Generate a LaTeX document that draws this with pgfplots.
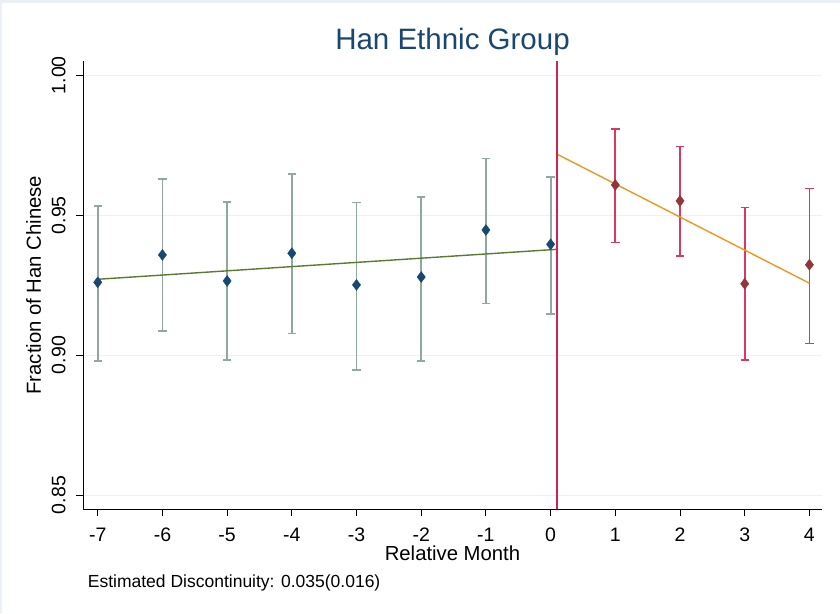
\documentclass[border=0pt]{standalone}
\usepackage{pgfplots}
\pgfplotsset{compat=1.18}
\usepackage{pgfplotstable}
\usepackage{fontspec}
\setmainfont{Liberation Sans}
\definecolor{navyc}{HTML}{1A476F}
\definecolor{ebgreen}{HTML}{90A99C}
\definecolor{fitgreen}{HTML}{5A7A32}
\definecolor{maroonc}{HTML}{90353B}
\definecolor{crimsonc}{HTML}{D63A62}
\definecolor{vlinec}{HTML}{CF2350}
\definecolor{orangec}{HTML}{F0961E}
\definecolor{gridc}{HTML}{EAF2F3}
\definecolor{framec}{HTML}{EAF0F3}

\pgfplotstableread{
x y ep em
-7 0.9260 0.0272 0.0282
-6 0.9358 0.0272 0.0272
-5 0.9265 0.0283 0.0283
-4 0.9364 0.0283 0.0287
-3 0.9251 0.0294 0.0304
-2 0.9279 0.0286 0.0300
-1 0.9447 0.0256 0.0262
0 0.9396 0.0241 0.0250
}\pre
\pgfplotstableread{
x y ep em
1 0.9608 0.0200 0.0205
2 0.9551 0.0194 0.0196
3 0.9255 0.0272 0.0273
4 0.9323 0.0272 0.0282
}\post

\begin{document}
\begin{tikzpicture}[x=1pt,y=1pt]
\path[use as bounding box] (0,0) rectangle (840,613);
\fill[framec] (0,610) rectangle (840,613);
\fill[framec] (0,0) rectangle (2,613);
\begin{axis}[
  at={(83.3pt,103.7pt)}, anchor=south west,
  scale only axis, width=738.4pt, height=448.3pt,
  xmin=-7.223, xmax=4.19, ymin=0.8449, ymax=1.0051,
  axis lines*=left,
  axis line style={black, line width=1pt, -},
  xtick={-7,-6,-5,-4,-3,-2,-1,0,1,2,3,4},
  ytick={0.85,0.90,0.95,1.00},
  tick align=outside, major tick length=7pt,
  tick style={black, line width=1pt},
  ymajorgrids, grid style={gridc, line width=1pt},
  /pgf/number format/assume math mode=true,
  yticklabel style={rotate=90, anchor=base, font=\fontsize{19.5}{20}\selectfont,
    /pgf/number format/.cd, fixed, fixed zerofill, precision=2},
  yticklabel shift=11pt,
  xticklabel style={anchor=base, font=\fontsize{19.5}{20}\selectfont},
  xticklabel shift=25pt,
  title={Han Ethnic Group},
  every axis title shift=0pt,
  title style={at={(axis description cs:0.5,1.02454)}, anchor=base, yshift=0pt,
    font=\fontsize{29.5}{30}\selectfont, text=navyc},
  xlabel={Relative Month},
  xlabel style={at={(axis description cs:0.5,-0.1131)}, anchor=base,
    font=\fontsize{20.3}{21}\selectfont},
  ylabel={Fraction of Han Chinese},
  ylabel style={at={(axis description cs:-0.0575,0.5)}, anchor=base,
    font=\fontsize{20.3}{21}\selectfont},
  clip=false,
]
% error bars
\addplot[draw=none, mark=none, forget plot,
  error bars/.cd, y dir=both, y explicit,
  error bar style={ebgreen, line width=1.8pt},
  error mark options={ebgreen, line width=1.6pt, mark size=4.2pt, rotate=90}]
  table[x=x, y=y, y error plus=ep, y error minus=em] {\pre};
\addplot[draw=none, mark=none, forget plot,
  error bars/.cd, y dir=both, y explicit,
  error bar style={crimsonc, line width=1.8pt},
  error mark options={crimsonc, line width=1.6pt, mark size=4.2pt, rotate=90}]
  table[x=x, y=y, y error plus=ep, y error minus=em] {\post};
% fitted lines
\addplot[fitgreen, line width=1.4pt, mark=none] coordinates {(-7,0.9271) (0.1,0.9378)};
\addplot[orangec, line width=1.4pt, mark=none] coordinates {(0.1,0.9718) (4,0.9257)};
% markers
\addplot[only marks, mark=diamond*, mark size=5.5pt, navyc, mark options={fill=navyc, draw=navyc}]
  table[x=x, y=y] {\pre};
\addplot[only marks, mark=diamond*, mark size=5.5pt, maroonc, mark options={fill=maroonc, draw=maroonc}]
  table[x=x, y=y] {\post};
% cutoff line
\addplot[vlinec, line width=1.6pt, mark=none] coordinates {(0.1,0.8449) (0.1,1.0051)};
\end{axis}
\node[anchor=base west, font=\fontsize{17.5}{18}\selectfont, inner sep=0pt] at (87.7,26) {Estimated Discontinuity: 0.035(0.016)};
\end{tikzpicture}
\end{document}
